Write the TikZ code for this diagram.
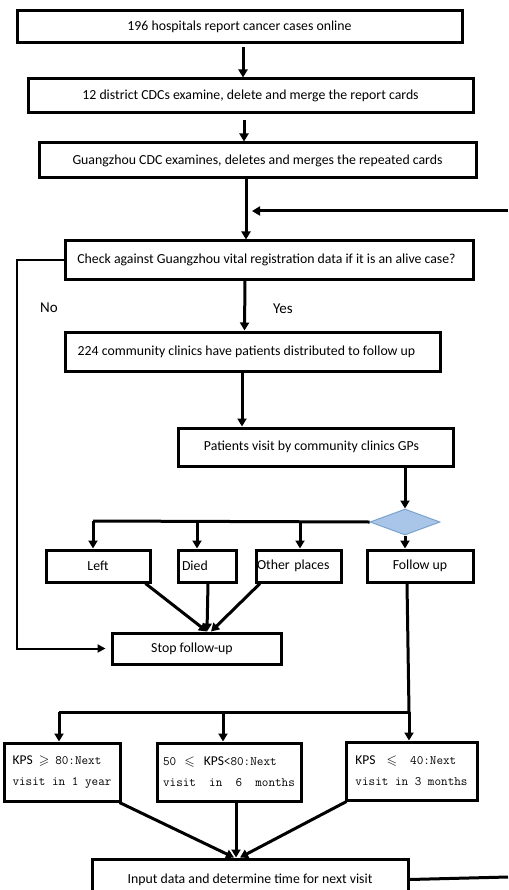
\documentclass[tikz,border=0pt]{standalone}
\usepackage{fontspec}
\usepackage{amssymb}
\setmainfont{Carlito}
\usetikzlibrary{arrows.meta,shapes.geometric}
\definecolor{diafill}{HTML}{A9C6E8}
\definecolor{diadraw}{HTML}{7AA2CF}
\newcommand{\mono}[1]{{\fontsize{12.8}{21}\selectfont\ttfamily #1}}
\begin{document}
\begin{tikzpicture}[x=1pt,y=-1pt,
  box/.style={draw, line width=3pt, inner sep=0pt, font=\fontsize{13.8}{16}\selectfont},
  kps/.style={box, align=left, font=\fontsize{13.5}{21}\selectfont},
  conn/.style={line width=3pt},
  arr/.style={line width=3pt, -{Triangle[width=9pt,length=8pt]}},
  thinarr/.style={line width=2pt, -{Triangle[width=8pt,length=8pt]}},
  lbl/.style={font=\fontsize{15}{17}\selectfont, inner sep=0pt}]
\useasboundingbox (0,0) rectangle (508,890);
\clip (0,0) rectangle (508,890);

% boxes
\node[box, minimum width=445pt, minimum height=32pt] (b1) at (239.5,27) {\raisebox{-2pt}{196 hospitals report cancer cases online}};
\node[box, minimum width=445pt, minimum height=34pt] (b2) at (250.5,96) {12 district CDCs examine, delete and merge the report cards};
\node[box, minimum width=437pt, minimum height=35pt] (b3) at (257.5,160.5) {Guangzhou CDC examines, deletes and merges the repeated cards};
\node[box, minimum width=408pt, minimum height=38pt] (b4) at (269,260) {\hspace*{-5pt}Check against Guangzhou vital registration data if it is an alive case?};
\node[box, minimum width=375pt, minimum height=39pt] (b5) at (252.5,351.5) {\hspace*{-12pt}224 community clinics have patients distributed to follow up};
\node[box, minimum width=275pt, minimum height=38pt] (b6) at (315.5,447) {\hspace*{-8pt}Patients visit by community clinics GPs};
\node[diamond, draw=diadraw, fill=diafill, line width=1pt, inner sep=0pt, minimum width=70pt, minimum height=26pt] (dia) at (405,522) {};

\node[box, minimum width=104pt, minimum height=32pt] (left) at (98,566) {\raisebox{-2pt}{Left}};
\node[box, text width=50pt, inner xsep=4pt, align=left, minimum height=32pt] (died) at (207,566) {\raisebox{1pt}{Died}};
\node[box, text width=83pt, inner xsep=1pt, align=left, minimum height=32pt] (other) at (298.5,566) {\raisebox{1pt}{Other places}};
\node[box, minimum width=106pt, minimum height=32pt] (fu) at (420,566) {\raisebox{-2pt}{Follow up}};
\node[box, minimum width=169pt, minimum height=31pt] (stop) at (196.5,648.5) {\hspace*{-9pt}\raisebox{-3pt}{Stop follow-up}};

\node[kps, minimum width=116pt, minimum height=58pt] (kA) at (62,772) {KPS\hspace{6pt}$\geqslant$\hspace{6pt}\mono{80:Next}\\\mono{visit in 1 year}};
\node[kps, minimum width=144pt, minimum height=58pt] (kB) at (229,772) {\mono{50}\hspace{8pt}$\leqslant$\hspace{9pt}KPS\mono{<80:Next}\\\mono{visit\ \ in\ \ 6\ \ months}};
\node[kps, minimum width=131pt, minimum height=58pt] (kC) at (411.5,771) {KPS\hspace{11pt}$\leqslant$\hspace{13pt}\mono{40:Next}\\\mono{visit in 3 months}};
\node[box, minimum width=316pt, minimum height=41pt] (inp) at (250,879.5) {\raisebox{1pt}{Input data and determine time for next visit}};

% labels
\node[lbl] (no) at (49,308) {No};
\node[lbl] (yes) at (283,309) {Yes};

% helper coordinates
\coordinate (fbT) at (508,211);
\coordinate (jn) at (246,211);
\coordinate (fbB) at (508,877);
\coordinate (cL) at (17,400);
\coordinate (br) at (93,521);
\coordinate (hR) at (409,712);
\coordinate (hM) at (223,712);
\coordinate (hL) at (59,712);

% main flow
\draw[arr, shorten <=3pt] ([xshift=3.5pt]b1.south) -- ([xshift=-7.5pt]b2.north);
\draw[arr, shorten <=6pt] ([xshift=-6.5pt]b2.south) -- ([xshift=-6.5pt]b2.south |- b3.north);
\draw[arr] ([xshift=-11.5pt]b3.south) -- ([xshift=-23pt]b4.north);
\draw[arr, shorten >=6pt] (fbT) -- (jn);
\draw[arr] ([xshift=-24pt]b4.south) -- ([xshift=-8pt]b5.north);
\draw[arr] ([xshift=-10.5pt]b5.south) -- ([xshift=-73.5pt]b6.north);
\draw[arr] (b6.south -| dia.north) -- (dia.north);

% branch to outcomes
\draw[conn] (dia.west) -- (br);
\draw[arr] (br) -- ([xshift=-5pt]left.north);
\draw[arr] ([xshift=-10pt]br -| died.north) -- ([xshift=-10pt]died.north);
\draw[arr] ([xshift=1.5pt]br -| other.north) -- ([xshift=1.5pt]other.north);
\draw[arr] (dia.south) -- (dia.south |- fu.north);

% to stop
\draw[arr] ([xshift=-6pt]left.south east) -- ([xshift=10.5pt]stop.north);
\draw[arr] ([xshift=1pt]died.south) -- ([xshift=10.5pt]stop.north);
\draw[arr] ([xshift=5.5pt]other.south west) -- ([xshift=14.5pt]stop.north);

% No branch
\draw[thinarr, shorten >=5pt] (b4.west) -- (b4.west -| cL) -- (stop.west -| cL) -- (stop.west);

% follow up branch
\draw[conn] ([xshift=-13pt]fu.south) -- (hR);
\draw[conn] (hR) -- (hL);
\draw[arr] (hL) -- (hL |- kA.north);
\draw[arr] (hM) -- (hM |- kB.north);
\draw[arr] (hR) -- (hR |- kC.north);

% to input
\draw[arr] ([xshift=-2pt]kA.south east) -- ([xshift=-16pt]inp.north);
\draw[arr] ([xshift=7pt]kB.south) -- ([xshift=-14pt]inp.north);
\draw[arr] ([xshift=2pt]kC.south west) -- ([xshift=-10pt]inp.north);

% feedback
\draw[conn] (inp.east) -- (fbB);
\end{tikzpicture}
\end{document}
